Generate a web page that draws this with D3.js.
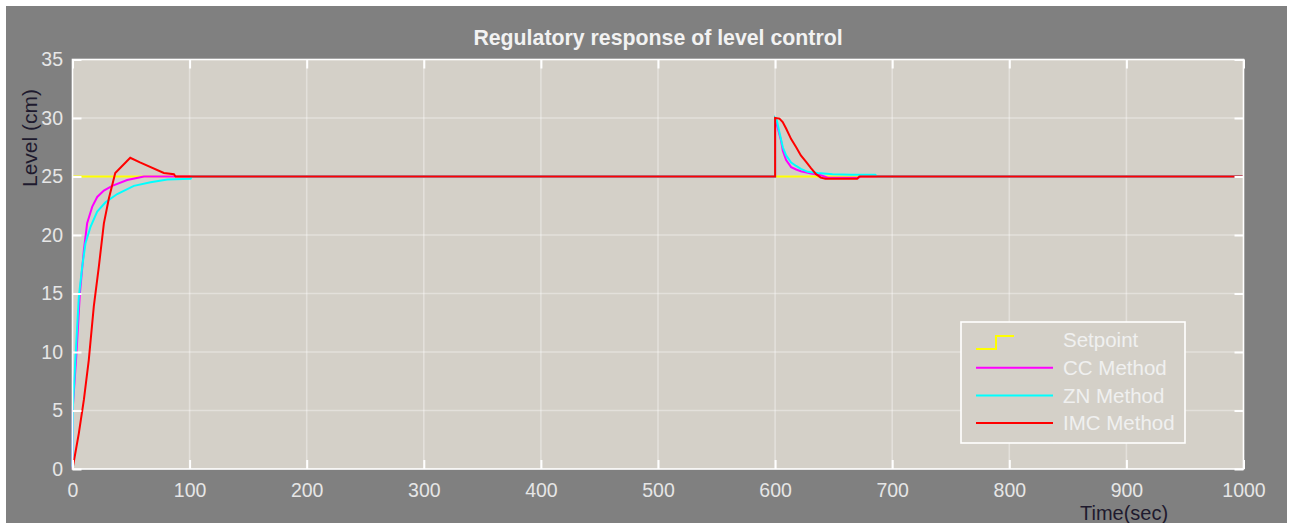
<!DOCTYPE html>
<html>
<head>
<meta charset="utf-8">
<script src="https://cdn.jsdelivr.net/npm/d3@7"></script>
<style>
  body { margin: 0; background: #ffffff; }
  svg { display: block; }
  text { font-family: "Liberation Sans", Arial, sans-serif; }
</style>
</head>
<body>
<div id="graph-holder"></div>
<script>
// tick values on each axis
var xTicks = [0, 100, 200, 300, 400, 500, 600, 700, 800, 900, 1000];
var yTicks = [0, 5, 10, 15, 20, 25, 30, 35];

// setpoint (yellow)
var spTime = [0, 1000];
var spLevel = [25, 25];

// CC method (magenta)
var ccTime = [0, 0.3, 3.4, 6.3, 9.7, 12.5, 16.8, 21.1, 26.8, 33.9, 46.7, 61, 600, 600, 605, 606.6, 609.4, 613.7, 618, 622, 630.8, 639, 645, 671, 673, 1000];
var ccLevel = [0, 5.3, 9.9, 15.0, 18.7, 21.0, 22.4, 23.25, 23.8, 24.2, 24.7, 25, 25, 30, 28.1, 27.2, 26.4, 25.8, 25.6, 25.45, 25.25, 25.1, 24.9, 24.9, 25, 25];

// ZN method (cyan)
var znTime = [0, 0.3, 2.6, 5.4, 8.3, 11.1, 15.4, 21.1, 28.2, 38.2, 52.4, 66.7, 81, 100.8, 102, 600, 600, 601.5, 603.6, 606.6, 609.4, 613.7, 618, 622, 627.9, 636.5, 649, 665, 685.5, 687, 1000];
var znLevel = [0, 5.3, 9.6, 14.7, 17.3, 19.3, 20.7, 22.0, 22.8, 23.5, 24.2, 24.5, 24.75, 24.8, 25, 25, 30, 29.8, 28.8, 27.5, 26.8, 26.2, 25.9, 25.65, 25.4, 25.3, 25.2, 25.15, 25.15, 25, 25];

// IMC method (red)
var imcTime = [0, 5.4, 9.7, 13.9, 18.2, 22.5, 26.8, 31, 36.5, 49.3, 57.6, 78, 86.6, 88, 600, 600, 603.7, 606.5, 609.4, 613.7, 618, 622, 626.5, 630.8, 635, 639, 643, 670, 672, 1000];
var imcLevel = [0, 3.05, 5.9, 9.3, 13.9, 17.3, 21.0, 23.1, 25.3, 26.6, 26.2, 25.3, 25.2, 25, 25, 30, 29.95, 29.66, 29.1, 28.2, 27.5, 26.8, 26.25, 25.7, 25.2, 24.9, 24.8, 24.8, 25, 25];

var seriesNames = ["Setpoint", "CC Method", "ZN Method", "IMC Method"];
var seriesColors = ["#ffff00", "#ff00ff", "#00ffff", "#ff0000"];

var W = 1290, H = 523;
var margin = { top: 59.5, right: 46.5, bottom: 54, left: 72.5 };
var width = W - margin.left - margin.right,
  height = H - margin.top - margin.bottom;

var root = d3.select("#graph-holder").append("svg")
  .attr("width", W)
  .attr("height", H);

// figure background
root.append("rect")
  .attr("x", 6).attr("y", 6)
  .attr("width", W - 9).attr("height", H)
  .attr("fill", "#808080");

var svg = root.append("g")
  .attr("transform", "translate(" + margin.left + "," + margin.top + ")");

var x = d3.scaleLinear().domain([0, 1000]).range([0, width]);
var y = d3.scaleLinear().domain([0, 35]).range([height, 0]);

// plot area
svg.append("rect")
  .attr("width", width)
  .attr("height", height)
  .attr("fill", "#d4d0c8");

// grid
svg.append("g").selectAll("line")
  .data(xTicks.slice(1, -1))
  .join("line")
  .attr("x1", function (d) { return x(d); })
  .attr("x2", function (d) { return x(d); })
  .attr("y1", 0).attr("y2", height)
  .attr("stroke", "rgba(255,255,255,0.35)")
  .attr("stroke-width", 1.6);

svg.append("g").selectAll("line")
  .data(yTicks.slice(1, -1))
  .join("line")
  .attr("y1", function (d) { return y(d); })
  .attr("y2", function (d) { return y(d); })
  .attr("x1", 0).attr("x2", width)
  .attr("stroke", "rgba(255,255,255,0.35)")
  .attr("stroke-width", 1.6);

// lines
var valueline = d3.line()
  .x(function (d) { return x(d[0]); })
  .y(function (d) { return y(d[1]); });

var allSeries = [
  d3.zip(spTime, spLevel),
  d3.zip(ccTime, ccLevel),
  d3.zip(znTime, znLevel),
  d3.zip(imcTime, imcLevel)
];

allSeries.forEach(function (s, i) {
  svg.append("path")
    .datum(s)
    .attr("d", valueline)
    .attr("fill", "none")
    .attr("stroke", seriesColors[i])
    .attr("stroke-width", 2)
    .attr("stroke-linejoin", "miter");
});

// axes (ticks pointing inward, MATLAB style)
function styleAxis(g) {
  g.select(".domain").remove();
  g.selectAll(".tick line").attr("stroke", "#ffffff").attr("stroke-width", 2);
  g.selectAll(".tick text")
    .attr("fill", "#e6e6e6")
    .style("font-size", "19.5px");
}

svg.append("g")
  .attr("transform", "translate(0," + height + ")")
  .call(d3.axisBottom(x).tickValues(xTicks).tickFormat(d3.format("d")).tickSize(-9).tickPadding(14))
  .call(styleAxis);

svg.append("g")
  .call(d3.axisLeft(y).tickValues(yTicks).tickFormat(d3.format("d")).tickSize(-9).tickPadding(9.5))
  .call(styleAxis);

svg.append("g")
  .call(d3.axisTop(x).tickValues(xTicks).tickSize(-9).tickFormat(""))
  .call(styleAxis);

svg.append("g")
  .attr("transform", "translate(" + width + ",0)")
  .call(d3.axisRight(y).tickValues(yTicks).tickSize(-9).tickFormat(""))
  .call(styleAxis);

// box
svg.append("rect")
  .attr("width", width)
  .attr("height", height)
  .attr("fill", "none")
  .attr("stroke", "#ffffff")
  .attr("stroke-width", 1.6);

// title
svg.append("text")
  .attr("x", width / 2)
  .attr("y", 45 - margin.top)
  .attr("text-anchor", "middle")
  .attr("fill", "#f2f2f2")
  .style("font-size", "21.3px")
  .style("font-weight", "bold")
  .text("Regulatory response of level control");

// axis labels
root.append("text")
  .attr("transform", "translate(37,138) rotate(-90)")
  .attr("text-anchor", "middle")
  .attr("fill", "#1e1a2e")
  .style("font-size", "21px")
  .text("Level (cm)");

root.append("text")
  .attr("x", 1080)
  .attr("y", 519.5)
  .attr("fill", "#1e1a2e")
  .style("font-size", "20px")
  .text("Time(sec)");

// legend
var legend = root.append("g").attr("transform", "translate(961,322)");

legend.append("rect")
  .attr("width", 224)
  .attr("height", 121)
  .attr("fill", "#d4d0c8")
  .attr("stroke", "#ffffff")
  .attr("stroke-width", 1.6);

seriesNames.forEach(function (name, i) {
  var ly = 18 + i * 27.7;
  if (i == 0) {
    legend.append("path")
      .attr("d", "M15," + (ly + 9) + "H35V" + (ly - 4) + "H53")
      .attr("fill", "none")
      .attr("stroke", seriesColors[i])
      .attr("stroke-width", 2);
  } else {
    legend.append("line")
      .attr("x1", 15).attr("x2", 92)
      .attr("y1", ly).attr("y2", ly)
      .attr("stroke", seriesColors[i])
      .attr("stroke-width", 2);
  }
  legend.append("text")
    .attr("x", 102)
    .attr("y", ly)
    .attr("dy", "0.35em")
    .attr("fill", "#f0f0f0")
    .style("font-size", "20.5px")
    .text(name);
});
</script>
</body>
</html>
